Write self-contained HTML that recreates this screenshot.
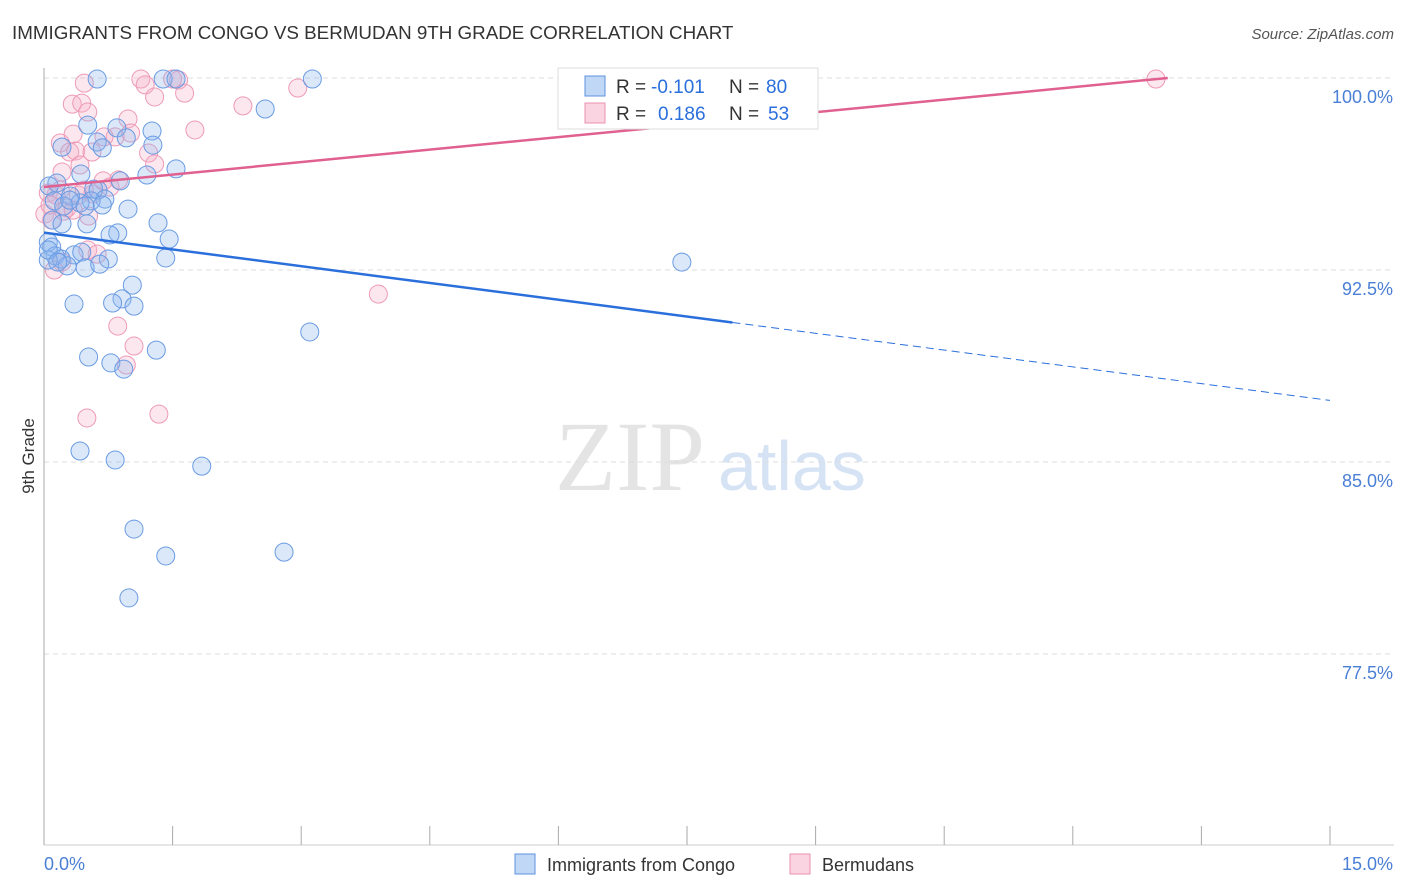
<!DOCTYPE html>
<html><head><meta charset="utf-8">
<style>
body{margin:0;background:#fff;font-family:"Liberation Sans",sans-serif;}
#wrap{position:relative;width:1406px;height:892px;overflow:hidden;}
</style></head>
<body><div id="wrap">
<svg id="chart" width="1406" height="892" xmlns="http://www.w3.org/2000/svg"></svg>
</div>
<script>
const blueX=[0.62,1.39,1.54,3.13,2.58,0.51,0.85,1.26,0.96,1.27,0.62,0.68,0.21,1.54,1.20,0.43,0.15,0.89,0.06,0.58,0.63,0.31,0.71,0.55,0.42,0.12,0.23,0.98,0.48,0.68,1.33,0.50,0.10,0.21,0.86,0.77,1.46,0.05,0.09,0.13,0.35,0.44,0.20,0.75,1.42,0.05,0.27,0.48,0.65,7.44,1.03,0.91,0.80,0.35,1.05,3.10,1.31,0.52,0.78,0.93,0.42,0.83,1.84,1.05,1.42,2.80,0.99,0.05,0.16,0.30];
const blueY=[99.96,99.96,99.96,99.96,98.79,98.16,98.05,97.93,97.66,97.38,97.50,97.27,97.30,96.45,96.21,96.25,95.90,95.98,95.78,95.66,95.62,95.39,95.27,95.20,95.12,95.20,95.00,94.88,95.00,95.04,94.34,94.30,94.45,94.30,93.95,93.87,93.71,93.59,93.40,93.05,93.09,93.20,92.93,92.93,92.97,92.89,92.66,92.58,92.73,92.81,91.91,91.37,91.21,91.17,91.09,90.08,89.37,89.10,88.87,88.63,85.43,85.08,84.84,82.38,81.33,81.48,79.69,93.28,92.81,95.23];
const pinkX=[0.47,1.13,1.18,1.50,1.57,1.29,1.64,0.33,0.44,2.32,2.96,0.98,0.51,1.76,0.83,0.19,0.34,0.30,0.37,1.22,0.56,0.21,0.42,1.29,0.69,0.87,0.05,0.14,0.27,0.01,0.09,0.23,0.52,0.40,0.57,0.51,0.21,0.12,3.90,0.86,1.05,0.96,0.50,1.34,12.97,0.70,1.01,0.77,0.07,0.19,0.34,0.62,0.47];
const pinkY=[99.80,99.96,99.73,99.96,99.92,99.26,99.41,98.98,99.02,98.91,99.61,98.40,98.67,97.97,97.70,97.46,97.81,97.11,97.15,97.07,97.11,96.33,96.60,96.64,95.98,96.02,95.51,95.43,94.92,94.69,94.45,94.80,94.61,95.43,95.47,93.28,92.81,92.50,91.56,90.31,89.53,88.79,86.72,86.87,99.96,97.70,97.85,95.74,95.04,95.62,94.84,93.12,95.62];
const blueTrend=[93.96,-0.437];
const pinkTrend=[95.74,0.325];
const yTicks=[100,92.5,85,77.5];
const yTickLabels=["100.0%","92.5%","85.0%","77.5%"];

const NS="http://www.w3.org/2000/svg";
const svg=document.getElementById('chart');
const X0=44,X1=1330,YT=78,YB=845;
const xs=v=>X0+(v/15)*(X1-X0);
const ys=v=>YT+(100-v)/7.5*192;
function el(tag,attrs,parent){const e=document.createElementNS(NS,tag);for(const k in attrs)e.setAttribute(k,attrs[k]);(parent||svg).appendChild(e);return e;}

let t=el('text',{x:12,y:39,'font-size':18.8,fill:'#333'});t.textContent='IMMIGRANTS FROM CONGO VS BERMUDAN 9TH GRADE CORRELATION CHART';


t=el('text',{x:1394,y:39,'font-size':15,fill:'#555','text-anchor':'end','font-style':'italic'});t.textContent='Source: ZipAtlas.com';



t=el('text',{x:555,y:490,'font-size':100,fill:'#e4e4e4','font-family':'Liberation Serif,serif'});t.textContent='ZIP';


t=el('text',{x:718,y:490,'font-size':70,fill:'#d5e3f5'});t.textContent='atlas';



yTicks.forEach((v,i)=>{
  const g=el('line',{x1:X0,x2:1394,y1:ys(v),y2:ys(v),stroke:'#ddd','stroke-dasharray':'5,4'});
  
  
  const l=el('text',{x:1393,y:ys(v)+25,'font-size':18,fill:'#4a7fd6','text-anchor':'end'});l.textContent=yTickLabels[i];
  
  
});
let a=el('line',{x1:X0,x2:X0,y1:68,y2:YB,stroke:'#aaa'});


a=el('line',{x1:X0,x2:1394,y1:YB,y2:YB,stroke:'#ccc'});


for(let i=0;i<=10;i++){const tk=el('line',{x1:xs(i*1.5),x2:xs(i*1.5),y1:826,y2:YB,stroke:'#aaa'});
  
  }
t=el('text',{x:44,y:870,'font-size':18,fill:'#4a7fd6'});t.textContent='0.0%';


t=el('text',{x:1393,y:870,'font-size':18,fill:'#4a7fd6','text-anchor':'end'});t.textContent='15.0%';


t=el('text',{x:34,y:456,'font-size':17,fill:'#333','text-anchor':'middle',transform:'rotate(-90 34 456)'});t.textContent='9th Grade';



function pts(X,Y,fill,stroke,name){X.forEach((x,i)=>{const c=el('circle',{cx:xs(x),cy:ys(Y[i]),r:9,fill:fill,stroke:stroke,'stroke-width':1});
  
  });}
pts(pinkX,pinkY,'rgba(246,175,200,0.3)','#ee9ab6','bermudan-point');
pts(blueX,blueY,'rgba(140,182,238,0.32)','#6a9be3','congo-point');

let ln=el('line',{x1:xs(0),y1:ys(blueTrend[0]),x2:xs(8.03),y2:ys(blueTrend[0]+blueTrend[1]*8.03),stroke:'#2a6fdb','stroke-width':2.5});


ln=el('line',{x1:xs(8.03),y1:ys(blueTrend[0]+blueTrend[1]*8.03),x2:xs(15),y2:ys(blueTrend[0]+blueTrend[1]*15),stroke:'#2a6fdb','stroke-width':1,'stroke-dasharray':'8,5'});


const pEnd=(100-pinkTrend[0])/pinkTrend[1];
ln=el('line',{x1:xs(0),y1:ys(pinkTrend[0]),x2:xs(pEnd),y2:ys(100),stroke:'#e0608f','stroke-width':2.5});



const lg=el('g',{});


el('rect',{x:558,y:68,width:260,height:61,fill:'#fff',stroke:'#ddd'},lg);
el('rect',{x:585,y:76,width:20,height:20,fill:'rgba(130,175,235,0.5)',stroke:'#5d91e0'},lg);
el('rect',{x:585,y:103,width:20,height:20,fill:'rgba(246,170,196,0.5)',stroke:'#eb92b0'},lg);
function lt(x,y,s,c){const e=el('text',{x:x,y:y,'font-size':19,fill:c},lg);e.textContent=s;return e;}
lt(616,93,'R =','#333');lt(651,93,'-0.101','#2a6fdb');lt(729,93,'N =','#333');lt(766,93,'80','#2a6fdb');
lt(616,120,'R =','#333');lt(658,120,'0.186','#2a6fdb');lt(729,120,'N =','#333');lt(768,120,'53','#2a6fdb');

const bl=el('g',{});


el('rect',{x:515,y:854,width:20,height:20,fill:'rgba(130,175,235,0.5)',stroke:'#5d91e0'},bl);
el('rect',{x:790,y:854,width:20,height:20,fill:'rgba(246,170,196,0.5)',stroke:'#eb92b0'},bl);
t=el('text',{x:547,y:871,'font-size':18,fill:'#333'},bl);t.textContent='Immigrants from Congo';
t=el('text',{x:822,y:871,'font-size':18,fill:'#333'},bl);t.textContent='Bermudans';
</script>
</body></html>
